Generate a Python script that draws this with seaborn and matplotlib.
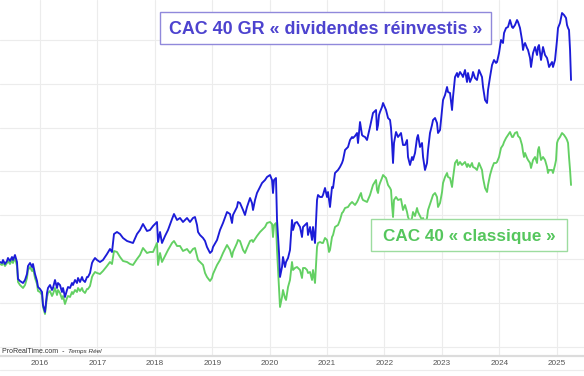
import numpy as np
import pandas as pd
import matplotlib
matplotlib.use("Agg")
import matplotlib.pyplot as plt
from matplotlib.patches import Rectangle
from matplotlib.lines import Line2D
import seaborn as sns

# ---------------- data ----------------
START_YEAR = 2015.303          # first weekly close shown
YEAR_TICKS = [2016, 2017, 2018, 2019, 2020, 2021, 2022, 2023, 2024, 2025]

# time since first point, in years
t_years = [
    0.000, 0.035, 0.052, 0.087, 0.122, 0.139, 0.174, 0.209, 0.226, 0.261,
    0.296, 0.314, 0.348, 0.401, 0.436, 0.470, 0.488, 0.523, 0.558, 0.575,
    0.610, 0.645, 0.662, 0.697, 0.732, 0.749, 0.784, 0.819, 0.836, 0.871,
    0.906, 0.923, 0.958, 0.993, 1.010, 1.045, 1.080, 1.098, 1.132, 1.167,
    1.185, 1.220, 1.254, 1.272, 1.307, 1.341, 1.359, 1.394, 1.429, 1.446,
    1.481, 1.516, 1.533, 1.568, 1.603, 1.620, 1.655, 1.690, 1.742, 1.794,
    1.864, 1.916, 1.951, 1.986, 2.038, 2.091, 2.143, 2.213, 2.265, 2.317,
    2.387, 2.439, 2.491, 2.561, 2.613, 2.666, 2.735, 2.753, 2.788, 2.822,
    2.875, 2.927, 2.997, 3.031, 3.084, 3.136, 3.188, 3.258, 3.310, 3.362,
    3.397, 3.432, 3.450, 3.484, 3.537, 3.572, 3.606, 3.659, 3.693, 3.711,
    3.781, 3.833, 3.885, 3.955, 4.007, 4.042, 4.059, 4.129, 4.146, 4.181,
    4.234, 4.268, 4.303, 4.356, 4.390, 4.408, 4.443, 4.477, 4.530, 4.565,
    4.617, 4.652, 4.704, 4.739, 4.756, 4.774, 4.808, 4.826, 4.861, 4.878,
    4.913, 4.930, 4.965, 4.983, 5.018, 5.052, 5.087, 5.105, 5.139, 5.174,
    5.227, 5.261, 5.279, 5.314, 5.349, 5.366, 5.401, 5.436, 5.453, 5.488,
    5.523, 5.540, 5.575, 5.610, 5.627, 5.662, 5.697, 5.714, 5.732, 5.749,
    5.784, 5.802, 5.836, 5.889, 5.923, 5.958, 5.976, 6.011, 6.063, 6.098,
    6.133, 6.150, 6.185, 6.220, 6.237, 6.272, 6.289, 6.307, 6.324, 6.359,
    6.394, 6.446, 6.498, 6.551, 6.568, 6.586, 6.603, 6.620, 6.655, 6.673,
    6.725, 6.760, 6.795, 6.812, 6.829, 6.847, 6.864, 6.899, 6.934, 6.986,
    7.021, 7.056, 7.091, 7.108, 7.143, 7.178, 7.195, 7.230, 7.265, 7.282,
    7.317, 7.352, 7.370, 7.404, 7.439, 7.457, 7.491, 7.526, 7.544, 7.579,
    7.613, 7.631, 7.666, 7.701, 7.718, 7.753, 7.788, 7.805, 7.840, 7.875,
    7.892, 7.927, 7.962, 7.979, 8.014, 8.049, 8.066, 8.101, 8.136, 8.153,
    8.188, 8.223, 8.241, 8.275, 8.310, 8.345, 8.397, 8.415, 8.450, 8.485,
    8.502, 8.537, 8.572, 8.606, 8.641, 8.659, 8.694, 8.728, 8.763, 8.781,
    8.816, 8.850, 8.885, 8.920, 8.937, 8.972, 9.007, 9.025, 9.059, 9.094,
    9.112, 9.129, 9.147, 9.181, 9.199, 9.234, 9.251, 9.286, 9.321, 9.356,
    9.373, 9.390, 9.425, 9.460, 9.495, 9.530, 9.547, 9.565, 9.617, 9.634,
    9.669, 9.687, 9.704, 9.721, 9.756, 9.791, 9.826, 9.861, 9.878, 9.896,
    9.913, 9.931, 9.948,
]

# CAC 40 GR (dividends reinvested), chart index level
cac40_gr = [
    138, 137, 140, 136, 139, 142, 139, 143, 140, 145,
    138, 121, 119, 117, 120, 126, 134, 137, 133, 136,
    126, 119, 113, 111, 108, 95, 88, 107, 112, 115,
    110, 112, 120, 112, 117, 115, 108, 112, 103, 110,
    113, 112, 117, 115, 120, 117, 122, 118, 123, 120,
    118, 123, 123, 127, 137, 139, 142, 140, 138, 140,
    146, 151, 148, 166, 168, 166, 162, 159, 158, 157,
    166, 170, 176, 169, 170, 174, 178, 158, 168, 157,
    164, 170, 181, 186, 180, 182, 178, 182, 178, 182,
    183, 175, 168, 165, 162, 159, 153, 147, 149, 153,
    160, 170, 177, 188, 186, 177, 185, 193, 198, 197,
    190, 185, 193, 202, 197, 190, 200, 207, 213, 217,
    220, 223, 225, 220, 207, 220, 222, 180, 147, 123,
    133, 143, 133, 138, 142, 150, 180, 170, 177, 178,
    173, 163, 173, 175, 177, 165, 173, 160, 173, 157,
    200, 205, 203, 203, 205, 212, 203, 208, 200, 193,
    213, 212, 227, 230, 233, 237, 240, 250, 253, 260,
    263, 262, 264, 267, 257, 278, 272, 265, 264, 263,
    260, 273, 287, 290, 270, 275, 285, 288, 293, 297,
    290, 282, 280, 272, 257, 237, 257, 268, 263, 267,
    255, 255, 260, 243, 235, 243, 240, 247, 262, 265,
    253, 257, 243, 230, 237, 250, 267, 275, 280, 282,
    277, 267, 270, 290, 300, 305, 313, 308, 307, 290,
    303, 323, 327, 323, 328, 325, 323, 330, 318, 327,
    318, 323, 328, 322, 320, 330, 323, 313, 300, 297,
    310, 323, 335, 340, 337, 338, 347, 360, 357, 367,
    372, 373, 380, 373, 372, 375, 380, 378, 372, 360,
    350, 355, 357, 352, 350, 342, 333, 347, 353, 345,
    353, 355, 340, 353, 345, 342, 338, 333, 338, 333,
    340, 350, 360, 372, 377, 387, 385, 382, 375, 372,
    370, 350, 320,
]

# CAC 40 (price index), same chart scale
cac40 = [
    136, 135, 138, 134, 137, 139, 136, 140, 137, 142,
    134, 118, 115, 112, 115, 122, 130, 133, 129, 132,
    122, 116, 109, 108, 105, 93, 86, 103, 107, 109,
    104, 106, 112, 105, 110, 107, 101, 104, 96, 102,
    104, 103, 108, 106, 110, 108, 112, 109, 112, 109,
    107, 111, 111, 114, 123, 125, 128, 127, 126, 129,
    134, 138, 136, 149, 148, 143, 139, 138, 136, 135,
    141, 145, 152, 147, 148, 148, 157, 135, 147, 138,
    144, 150, 157, 159, 154, 154, 149, 151, 147, 151,
    152, 144, 140, 138, 135, 127, 123, 119, 122, 126,
    135, 140, 147, 155, 150, 143, 148, 157, 160, 159,
    150, 147, 152, 159, 160, 158, 161, 164, 168, 170,
    173, 177, 178, 176, 163, 175, 177, 150, 113, 93,
    103, 110, 102, 100, 113, 120, 138, 130, 132, 133,
    130, 122, 132, 132, 130, 127, 128, 120, 130, 117,
    153, 157, 158, 157, 157, 162, 160, 155, 148, 150,
    163, 165, 173, 175, 180, 187, 188, 192, 193, 196,
    198, 197, 195, 198, 200, 205, 207, 202, 200, 199,
    198, 205, 215, 220, 210, 207, 214, 217, 222, 225,
    222, 215, 212, 210, 195, 183, 200, 203, 200, 201,
    190, 195, 188, 183, 178, 182, 188, 184, 192, 188,
    184, 180, 182, 176, 182, 190, 196, 202, 205, 207,
    203, 193, 197, 208, 217, 223, 227, 223, 222, 213,
    222, 237, 240, 235, 238, 235, 236, 238, 233, 236,
    233, 237, 233, 232, 230, 237, 230, 222, 212, 208,
    215, 225, 232, 237, 237, 238, 243, 252, 255, 258,
    262, 265, 268, 263, 263, 267, 268, 264, 262, 255,
    248, 243, 247, 242, 240, 237, 232, 240, 243, 237,
    250, 253, 240, 243, 240, 233, 227, 230, 230, 227,
    235, 240, 257, 260, 263, 267, 265, 262, 260, 257,
    243, 230, 215,
]

series_names = ["CAC 40 GR « dividendes réinvestis »", "CAC 40 « classique »"]
series_colors = ["#1c1cd8", "#63d063"]
label_colors = ["#4d43cf", "#55c65d"]
box_edges = ["#9089db", "#9ddc9f"]

# ---------------- build frame ----------------
years = START_YEAR + np.asarray(t_years)
df = pd.DataFrame({
    "year": np.concatenate([years, years]),
    "value": np.concatenate([cac40, cac40_gr]),
    "serie": [series_names[1]] * len(years) + [series_names[0]] * len(years),
})

# ---------------- figure ----------------
sns.set_theme(style="white")
plt.rcParams["font.family"] = ["Liberation Sans", "DejaVu Sans"]

W, H = 584, 376
fig = plt.figure(figsize=(W / 100, H / 100), dpi=100, facecolor="white")
ax = fig.add_axes([0, 20 / H, 1, 356 / H])
ax.set_facecolor("white")

sns.lineplot(data=df, x="year", y="value", hue="serie",
             hue_order=[series_names[1], series_names[0]],
             palette=[series_colors[1], series_colors[0]],
             linewidth=1.35, legend=False, ax=ax, estimator=None, sort=False)

ax.set_xlim(START_YEAR, START_YEAR + 10.174)
ax.set_ylim(44, 400)
ax.set_xticks(YEAR_TICKS)
ax.set_xticklabels([str(y) for y in YEAR_TICKS])
ax.set_yticks(np.arange(53, 400, 43.9))
ax.set_yticklabels([])
ax.tick_params(axis="y", length=0)
ax.tick_params(axis="x", length=0, pad=3, labelsize=5.9, labelcolor="#555555")
ax.grid(True, color="#ececec", linewidth=0.8)
ax.set_axisbelow(True)
ax.set_xlabel("")
ax.set_ylabel("")
for side in ["top", "right", "left"]:
    ax.spines[side].set_visible(False)
ax.spines["bottom"].set_color("#dcdcdc")
ax.spines["bottom"].set_linewidth(1.6)

# bottom strip line
fig.add_artist(Line2D([0, 1], [1 - 370 / H, 1 - 370 / H], color="#ececec",
                      linewidth=0.8, transform=fig.transFigure))

# source text
src = fig.text(2 / W, 1 - 353 / H, "ProRealTime.com  -  ", fontsize=5.0,
               color="#333333", ha="left", va="baseline")
fig.canvas.draw()
bb = src.get_window_extent(renderer=fig.canvas.get_renderer())
fig.text(bb.x1 / W, 1 - 353 / H, "Temps Réel", fontsize=4.6, color="#333333",
         style="italic", ha="left", va="baseline")

# label boxes
def label_box(x0, y0, x1, y1, text, color, edge, size):
    fig.add_artist(Rectangle((x0 / W, 1 - y1 / H), (x1 - x0) / W, (y1 - y0) / H,
                             transform=fig.transFigure, facecolor="white",
                             edgecolor=edge, linewidth=1.0, zorder=5))
    fig.text((x0 + x1) / 2 / W, 1 - (y0 + y1) / 2 / H, text, fontsize=size,
             fontweight="bold", color=color, ha="center", va="center_baseline",
             zorder=6)

label_box(160, 12, 491, 44, series_names[0], label_colors[0], box_edges[0], 12.9)
label_box(371, 219, 567, 251, series_names[1], label_colors[1], box_edges[1], 12.3)

fig.savefig("out.png", dpi=100, facecolor="white")
